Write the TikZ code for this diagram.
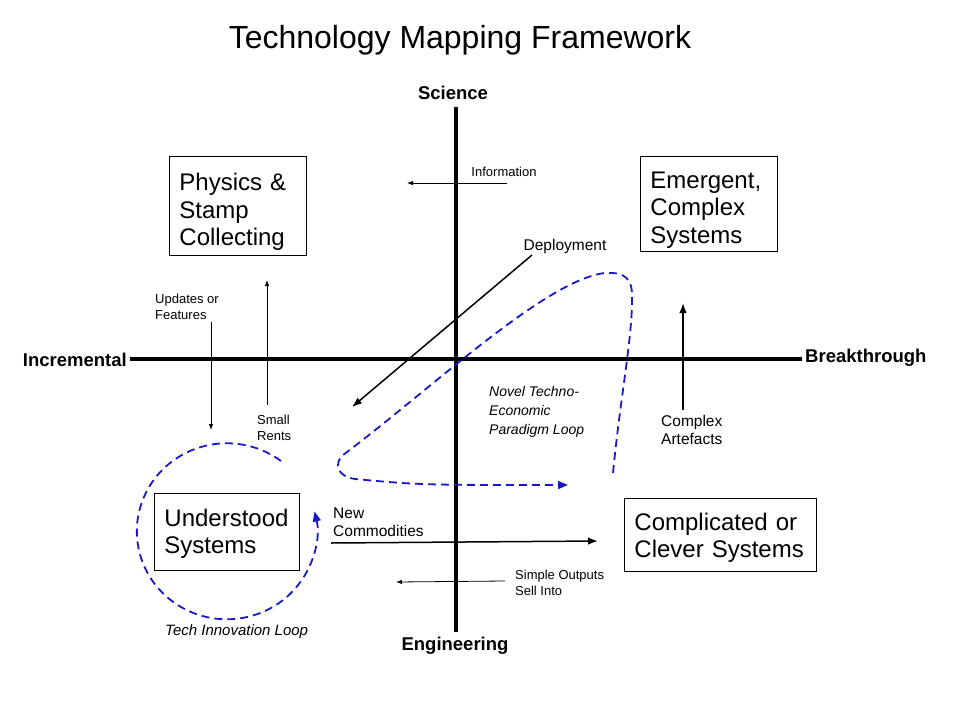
\documentclass[tikz,border=0pt]{standalone}
\usepackage{fontspec}
\setmainfont{Liberation Sans}
\usetikzlibrary{arrows.meta}
\definecolor{loopblue}{RGB}{25,25,200}
\begin{document}
\begin{tikzpicture}[x=1pt, y=1pt,
        box/.style={draw, line width=0.9pt, inner xsep=10pt, inner ysep=0pt, align=left,
            anchor=north west, font=\fontsize{24}{27.5}\selectfont},
        axislbl/.style={inner sep=0pt, font=\fontsize{18.5}{22}\selectfont\bfseries},
        lbl/.style={inner sep=0pt, align=left, anchor=west, font=\fontsize{13}{16}\selectfont},
        biglbl/.style={inner sep=0pt, align=left, anchor=west, font=\fontsize{15.5}{18.5}\selectfont},
        thin arrow/.style={-{Latex[length=6pt, width=4.5pt]}, line width=0.8pt},
        thick arrow/.style={-{Latex[length=10pt, width=7.5pt]}, line width=1.5pt},
        loop/.style={loopblue, line width=1.8pt, dash pattern=on 8pt off 5pt,
            -{Triangle[length=10pt, width=8pt]}}]
        \useasboundingbox (0, 0) rectangle (960, -720);

        %Titulo
        \node[inner sep=0pt, font=\fontsize{32}{38}\selectfont] (title) at (460, -40) {Technology Mapping Framework};

        %Eixos
        \coordinate (top) at (456, -107);
        \coordinate (bottom) at (456, -632);
        \coordinate (left) at (130, -359);
        \coordinate (right) at (802, -359);
        \draw[line width=4pt] (top) -- (bottom);
        \draw[line width=4pt] (left) -- (right);
        \node[axislbl] (science) at (453, -93) {Science};
        \node[axislbl] (engineering) at (455, -646) {Engineering};
        \node[axislbl, anchor=east] (incremental) at (127, -360) {Incremental};
        \node[axislbl, anchor=west] (breakthrough) at (805, -358) {Breakthrough};

        %Caixas
        \node[box, minimum width=137, minimum height=99, text width=117, text height=30pt] (physics) at (169, -156) {Physics \&\\Stamp\\Collecting};
        \node[box, minimum width=137, minimum height=95, text width=117, text height=29pt] (emergent) at (640, -156) {Emergent,\\Complex\\Systems};
        \node[box, minimum width=145, minimum height=77, text width=125, text height=21pt] (understood) at (154, -493) {Understood\\Systems};
        \node[box, minimum width=192, minimum height=73, text width=172, text height=23.5pt] (complicated) at (624, -498) {Complicated or\\Clever Systems};

        %Flechas
        \coordinate (infoA) at (507, -183);
        \coordinate (infoB) at (407, -183);
        \draw[thin arrow] (infoA) -- (infoB);
        \node[lbl, anchor=center] (information) at (504, -172) {Information};

        \coordinate (deployA) at (532, -255);
        \coordinate (deployB) at (352, -407);
        \draw[thick arrow] (deployA) -- (deployB);
        \node[biglbl, anchor=center] (deployment) at (565, -246) {Deployment};

        \coordinate (updA) at (211, -322);
        \coordinate (updB) at (211, -430);
        \draw[thin arrow] (updA) -- (updB);
        \node[lbl] (updates) at (155, -307) {Updates or\\Features};

        \coordinate (rentA) at (267, -405);
        \coordinate (rentB) at (267, -280);
        \draw[thin arrow] (rentA) -- (rentB);
        \node[lbl] (rents) at (257, -428) {Small\\Rents};

        \coordinate (artA) at (683, -410);
        \coordinate (artB) at (683, -303);
        \draw[thick arrow] (artA) -- (artB);
        \node[biglbl] (artefacts) at (661, -430) {Complex\\Artefacts};

        \coordinate (comA) at (331, -543);
        \coordinate (comB) at (598, -541);
        \draw[thick arrow] (comA) -- (comB);
        \node[biglbl] (commodities) at (333, -522) {New\\Commodities};

        \coordinate (outA) at (505, -581);
        \coordinate (outB) at (396, -582);
        \draw[thin arrow] (outA) -- (outB);
        \node[lbl] (outputs) at (515, -583) {Simple Outputs\\Sell Into};

        %Lacos
        \draw[loop] (281, -461) arc[start angle=53, end angle=373, x radius=90, y radius=88];
        \node[biglbl, font=\fontsize{15}{18.5}\selectfont\itshape] (techloop) at (165, -632) {Tech Innovation Loop};

        \coordinate (novelA) at (613, -473);
        \coordinate (novelB) at (568, -485);
        \draw[loop] (novelA) .. controls (620, -400) and (632, -340) .. (632, -300)
            .. controls (633, -278) and (625, -272) .. (605, -273)
            .. controls (545, -280) and (430, -390) .. (343, -455)
            .. controls (335, -462) and (335, -476) .. (355, -479)
            .. controls (420, -485) .. (novelB);
        \node[biglbl, font=\fontsize{14}{19}\selectfont\itshape] (novelloop) at (489, -412) {Novel Techno-\\Economic\\Paradigm Loop};
    \end{tikzpicture}
\end{document}
